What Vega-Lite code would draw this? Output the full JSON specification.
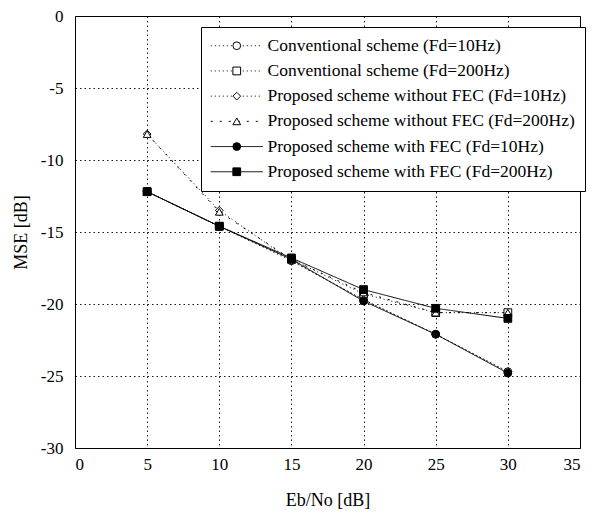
{
  "$schema": "https://vega.github.io/schema/vega-lite/v6.json",
  "autosize": {"type": "none"},
  "width": 505,
  "height": 432,
  "padding": {"left": 75, "top": 16, "right": 30, "bottom": 67},
  "background": "white",
  "config": {
    "view": {"stroke": "black", "strokeWidth": 1},
    "font": "Liberation Serif",
    "axis": {
      "labelFont": "Liberation Serif", "labelFontSize": 17, "labelColor": "black",
      "titleFont": "Liberation Serif", "titleFontSize": 18, "titleFontWeight": "normal", "titleColor": "black",
      "grid": true, "gridColor": "black", "gridDash": [1.5, 3], "gridOpacity": 0.9, "gridWidth": 1,
      "domain": false, "ticks": false,
      "labelExpr": "replace(datum.label, '\u2212', '-')"
    }
  },
  "data": {"values": [
    {"x": 5, "y": -12.2, "series": "Conventional scheme (Fd=10Hz)"},
    {"x": 10, "y": -14.6, "series": "Conventional scheme (Fd=10Hz)"},
    {"x": 15, "y": -17.0, "series": "Conventional scheme (Fd=10Hz)"},
    {"x": 20, "y": -19.7, "series": "Conventional scheme (Fd=10Hz)"},
    {"x": 25, "y": -22.1, "series": "Conventional scheme (Fd=10Hz)"},
    {"x": 30, "y": -24.7, "series": "Conventional scheme (Fd=10Hz)"},
    {"x": 5, "y": -12.2, "series": "Conventional scheme (Fd=200Hz)"},
    {"x": 10, "y": -14.6, "series": "Conventional scheme (Fd=200Hz)"},
    {"x": 15, "y": -16.9, "series": "Conventional scheme (Fd=200Hz)"},
    {"x": 20, "y": -19.3, "series": "Conventional scheme (Fd=200Hz)"},
    {"x": 25, "y": -20.6, "series": "Conventional scheme (Fd=200Hz)"},
    {"x": 30, "y": -20.6, "series": "Conventional scheme (Fd=200Hz)"},
    {"x": 5, "y": -8.2, "series": "Proposed scheme without FEC (Fd=10Hz)"},
    {"x": 10, "y": -13.5, "series": "Proposed scheme without FEC (Fd=10Hz)"},
    {"x": 15, "y": -17.0, "series": "Proposed scheme without FEC (Fd=10Hz)"},
    {"x": 20, "y": -19.7, "series": "Proposed scheme without FEC (Fd=10Hz)"},
    {"x": 25, "y": -22.1, "series": "Proposed scheme without FEC (Fd=10Hz)"},
    {"x": 30, "y": -24.7, "series": "Proposed scheme without FEC (Fd=10Hz)"},
    {"x": 5, "y": -8.2, "series": "Proposed scheme without FEC (Fd=200Hz)"},
    {"x": 10, "y": -13.6, "series": "Proposed scheme without FEC (Fd=200Hz)"},
    {"x": 15, "y": -16.9, "series": "Proposed scheme without FEC (Fd=200Hz)"},
    {"x": 20, "y": -19.2, "series": "Proposed scheme without FEC (Fd=200Hz)"},
    {"x": 25, "y": -20.6, "series": "Proposed scheme without FEC (Fd=200Hz)"},
    {"x": 30, "y": -20.6, "series": "Proposed scheme without FEC (Fd=200Hz)"},
    {"x": 5, "y": -12.2, "series": "Proposed scheme with FEC (Fd=10Hz)"},
    {"x": 10, "y": -14.6, "series": "Proposed scheme with FEC (Fd=10Hz)"},
    {"x": 15, "y": -16.9, "series": "Proposed scheme with FEC (Fd=10Hz)"},
    {"x": 20, "y": -19.8, "series": "Proposed scheme with FEC (Fd=10Hz)"},
    {"x": 25, "y": -22.1, "series": "Proposed scheme with FEC (Fd=10Hz)"},
    {"x": 30, "y": -24.8, "series": "Proposed scheme with FEC (Fd=10Hz)"},
    {"x": 5, "y": -12.2, "series": "Proposed scheme with FEC (Fd=200Hz)"},
    {"x": 10, "y": -14.6, "series": "Proposed scheme with FEC (Fd=200Hz)"},
    {"x": 15, "y": -16.8, "series": "Proposed scheme with FEC (Fd=200Hz)"},
    {"x": 20, "y": -19.0, "series": "Proposed scheme with FEC (Fd=200Hz)"},
    {"x": 25, "y": -20.3, "series": "Proposed scheme with FEC (Fd=200Hz)"},
    {"x": 30, "y": -21.0, "series": "Proposed scheme with FEC (Fd=200Hz)"}
  ]},
  "encoding": {
    "x": {"field": "x", "type": "quantitative", "title": "Eb/No [dB]",
      "scale": {"domain": [0, 35], "nice": false},
      "axis": {"values": [0, 5, 10, 15, 20, 25, 30, 35], "labelPadding": 8, "titlePadding": 19}},
    "y": {"field": "y", "type": "quantitative", "title": "MSE [dB]",
      "scale": {"domain": [-30, 0], "nice": false},
      "axis": {"values": [-30, -25, -20, -15, -10, -5, 0], "labelPadding": 12, "titlePadding": 10}}
  },
  "layer": [
    {
      "mark": {"type": "line", "color": "black", "strokeWidth": 1},
      "encoding": {
        "strokeDash": {"field": "series", "type": "nominal", "sort": null,
          "scale": {"range": [[1, 3], [1, 3], [1, 3], [2, 7], [1, 0], [1, 0]]},
          "legend": {"orient": "none", "legendX": 126, "legendY": 11, "title": null,
            "fillColor": "white", "strokeColor": "black", "padding": 10, "rowPadding": 6.2,
            "symbolType": "M -5.2 0 L 5.2 0", "symbolSize": 100, "symbolOffset": 17,
            "symbolStrokeColor": "black", "symbolStrokeWidth": 1, "symbolFillColor": "transparent",
            "labelFont": "Liberation Serif", "labelFontSize": 17.5, "labelColor": "black", "labelOffset": 22,
            "labelLimit": 400, "zindex": 0}}
      }
    },
    {
      "mark": {"type": "point", "stroke": "black", "strokeWidth": 1, "opacity": 1},
      "encoding": {
        "shape": {"field": "series", "type": "nominal",
          "scale": {"domain": ["Conventional scheme (Fd=10Hz)", "Conventional scheme (Fd=200Hz)", "Proposed scheme without FEC (Fd=10Hz)", "Proposed scheme without FEC (Fd=200Hz)", "Proposed scheme with FEC (Fd=10Hz)", "Proposed scheme with FEC (Fd=200Hz)"],
            "range": ["circle", "square", "diamond", "triangle-up", "circle", "square"]},
          "legend": {"orient": "none", "legendX": 126, "legendY": 11, "title": null,
            "padding": 10, "rowPadding": 6.2, "symbolOffset": 17,
            "symbolStrokeColor": "black", "symbolStrokeWidth": 1,
            "labelFont": "Liberation Serif", "labelFontSize": 17.5, "labelOpacity": 0, "labelOffset": 22,
            "labelLimit": 400, "zindex": 1}},
        "fill": {"field": "series", "type": "nominal",
          "scale": {"domain": ["Conventional scheme (Fd=10Hz)", "Conventional scheme (Fd=200Hz)", "Proposed scheme without FEC (Fd=10Hz)", "Proposed scheme without FEC (Fd=200Hz)", "Proposed scheme with FEC (Fd=10Hz)", "Proposed scheme with FEC (Fd=200Hz)"],
            "range": ["white", "white", "white", "white", "black", "black"]}},
        "size": {"field": "series", "type": "nominal",
          "scale": {"domain": ["Conventional scheme (Fd=10Hz)", "Conventional scheme (Fd=200Hz)", "Proposed scheme without FEC (Fd=10Hz)", "Proposed scheme without FEC (Fd=200Hz)", "Proposed scheme with FEC (Fd=10Hz)", "Proposed scheme with FEC (Fd=200Hz)"],
            "range": [60, 60, 60, 55, 130, 160]}}
      }
    }
  ]
}
